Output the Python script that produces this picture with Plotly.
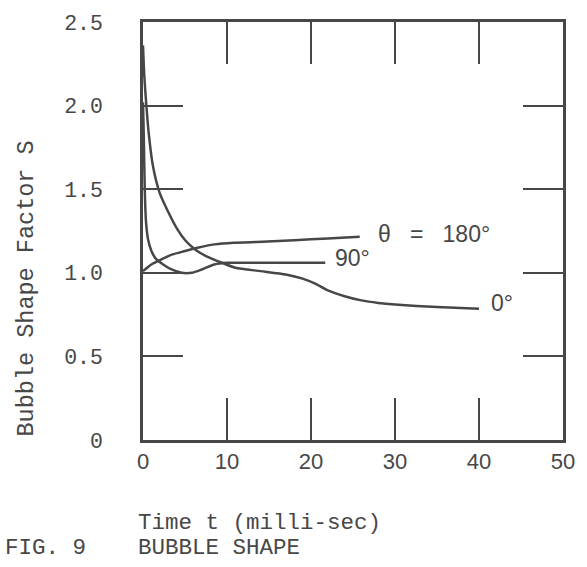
import plotly.graph_objects as go

# Time t (milli-sec) and Bubble Shape Factor S
t_0deg = [0.0, 0.15, 0.4, 0.67, 1.18, 1.97, 2.95, 4.1, 5.1, 6.2, 7.5, 9.4, 11.0, 14.0, 17.0, 19.0, 20.5, 22.0, 24.0, 26.0, 28.0, 30.0, 35.0, 40.0]
s_0deg = [2.36, 2.18, 2.00, 1.84, 1.64, 1.48, 1.37, 1.26, 1.19, 1.14, 1.10, 1.06, 1.03, 1.01, 0.99, 0.965, 0.935, 0.895, 0.86, 0.835, 0.82, 0.81, 0.795, 0.785]

t_90deg = [0.0, 0.08, 0.15, 0.22, 0.35, 0.6, 1.0, 1.6, 2.4, 3.4, 4.6, 5.8, 7.0, 8.5, 10.0, 12.0, 16.0, 21.7]
s_90deg = [2.02, 1.85, 1.65, 1.48, 1.31, 1.20, 1.13, 1.08, 1.05, 1.02, 1.00, 1.00, 1.02, 1.05, 1.06, 1.06, 1.06, 1.06]

t_180deg = [0.0, 1.0, 2.2, 3.5, 5.0, 6.5, 8.5, 10.8, 14.2, 18.0, 22.0, 25.8]
s_180deg = [1.01, 1.05, 1.08, 1.11, 1.13, 1.15, 1.17, 1.18, 1.185, 1.195, 1.205, 1.215]

x_ticks = [0, 10, 20, 30, 40, 50]
y_ticks = [0, 0.5, 1.0, 1.5, 2.0, 2.5]
y_ticklabels = ["0", "0.5", "1.0", "1.5", "2.0", "2.5"]

labels = [
    ("\u03b8\u00a0\u00a0\u00a0=\u00a0\u00a0\u00a0180\u00b0", 27.7, 1.235),
    ("90\u00b0", 22.6, 1.087),
    ("0\u00b0", 41.2, 0.82),
]

INK = "#474747"
MONO = "Courier New, Liberation Mono, monospace"
SANS = "Liberation Sans, Arial, sans-serif"

fig = go.Figure()
for tx, sy in [(t_0deg, s_0deg), (t_90deg, s_90deg), (t_180deg, s_180deg)]:
    fig.add_trace(go.Scatter(x=tx, y=sy, mode="lines",
                             line=dict(color=INK, width=2.5, shape="spline", smoothing=0.6),
                             showlegend=False, hoverinfo="skip"))

for text, lx, ly in labels:
    fig.add_annotation(x=lx, y=ly, xref="x", yref="y", text=text, showarrow=False,
                       xanchor="left", yanchor="middle",
                       font=dict(family=SANS, size=23, color=INK))

fig.add_annotation(xref="paper", yref="paper", x=-0.278, y=0.363, text="Bubble Shape Factor S",
                   textangle=-90, showarrow=False, xanchor="center", yanchor="middle",
                   font=dict(family=MONO, size=23.5, color=INK))
fig.add_annotation(xref="paper", yref="paper", x=-0.016, y=-0.1995, text="Time t (milli-sec)",
                   showarrow=False, xanchor="left", yanchor="middle",
                   font=dict(family=MONO, size=22.5, color=INK))
fig.add_annotation(xref="paper", yref="paper", x=-0.016, y=-0.259, text="BUBBLE SHAPE",
                   showarrow=False, xanchor="left", yanchor="middle",
                   font=dict(family=MONO, size=22.5, color=INK))
fig.add_annotation(xref="paper", yref="paper", x=-0.333, y=-0.259, text="FIG. 9",
                   showarrow=False, xanchor="left", yanchor="middle",
                   font=dict(family=MONO, size=22.5, color=INK))

fig.update_xaxes(range=[0, 50], tickvals=x_ticks, ticks="inside", ticklen=42, tickwidth=2,
                 tickcolor=INK, showline=True, linecolor=INK, linewidth=2.5, mirror="ticks",
                 showgrid=False, zeroline=False,
                 tickfont=dict(family=SANS, size=22, color=INK))
fig.update_yaxes(range=[0, 2.5], tickvals=y_ticks, ticktext=y_ticklabels, ticks="inside",
                 ticklen=40, tickwidth=2, tickcolor=INK, showline=True, linecolor=INK,
                 linewidth=2.5, mirror="ticks", showgrid=False, zeroline=False,
                 ticklabelstandoff=33,
                 tickfont=dict(family=MONO, size=21.5, color=INK))

fig.update_layout(width=587, height=567, margin=dict(l=143, r=20, t=19, b=127),
                  plot_bgcolor="white", paper_bgcolor="white")

fig.write_html("out.html")
